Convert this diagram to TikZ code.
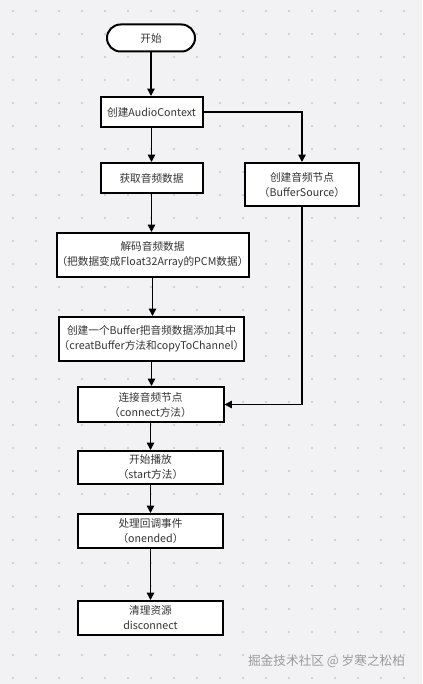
\documentclass[tikz,border=0pt]{standalone}
\usepackage{fontspec}
\setmainfont{Noto Sans CJK SC}
\usetikzlibrary{arrows.meta,shapes.misc}
\definecolor{bgcol}{HTML}{F2F2F4}
\definecolor{dotcol}{HTML}{C8C8CC}
\definecolor{txtcol}{HTML}{333333}
\definecolor{wmcol}{HTML}{9A9A9A}
\begin{document}
\begin{tikzpicture}[x=0.75pt,y=-0.75pt,
  box/.style={draw=black, line width=1.5pt, fill=white, align=center, inner sep=0pt,
    font=\fontsize{8}{11.25}\selectfont, text=txtcol},
  stadium/.style={box, rounded rectangle},
  conn/.style={draw=black, line width=1.1pt, -{Triangle[length=5.5pt,width=5.5pt]}}]
\fill[bgcol] (0,0) rectangle (422,684);
\useasboundingbox (0,0) rectangle (422,684);
\foreach \i in {0,...,17}
  \foreach \j in {0,...,29}
    \fill[dotcol] (13+23*\i, 11+23*\j) circle (0.8pt);

\node[stadium, minimum width=66pt, minimum height=20.25pt] (start) at (151,38) {开始};
\node[box, minimum width=76.5pt, minimum height=22.5pt] (ac) at (151.5,112) {创建AudioContext};
\node[box, minimum width=76.5pt, minimum height=22.5pt] (get) at (151.5,178) {获取音频数据};
\node[box, minimum width=85.5pt, minimum height=32.25pt] (bs) at (302,184.5) {创建音频节点\\（BufferSource）};
\node[box, minimum width=144pt, minimum height=33pt] (dec) at (152.5,255) {解码音频数据\\（把数据变成Float32Array的PCM数据）};
\node[box, minimum width=134.25pt, minimum height=33pt] (buf) at (151.5,339) {创建一个Buffer把音频数据添加其中\\（creatBuffer方法和copyToChannel）};
\node[box, minimum width=109.5pt, minimum height=26.25pt] (con) at (150.5,404.5) {连接音频节点\\（connect方法）};
\node[box, minimum width=108.75pt, minimum height=24.75pt] (play) at (150.5,467.5) {开始播放\\（start方法）};
\node[box, minimum width=108.75pt, minimum height=25.5pt] (cb) at (150.5,531) {处理回调事件\\（onended）};
\node[box, minimum width=108.75pt, minimum height=25.5pt] (clean) at (150.5,618) {清理资源\\disconnect};

\node[font=\fontsize{9.5}{11}\selectfont, text=wmcol, inner sep=0pt] (wm) at (326.5,661) {掘金技术社区 @ 岁寒之松柏};

\draw[conn] (start.south) -- (start.south |- ac.north);
\draw[conn] (ac.south) -- (ac.south |- get.north);
\draw[conn] (ac.east) -| (bs.north);
\draw[conn] (get.south) -- (get.south |- dec.north);
\draw[conn] (dec.south) -- (dec.south |- buf.north);
\draw[conn] (buf.south) -- (buf.south |- con.north);
\draw[conn] (bs.south) |- (con.east);
\draw[conn] (con.south) -- (con.south |- play.north);
\draw[conn] (play.south) -- (play.south |- cb.north);
\draw[conn] (cb.south) -- (cb.south |- clean.north);
\end{tikzpicture}
\end{document}
